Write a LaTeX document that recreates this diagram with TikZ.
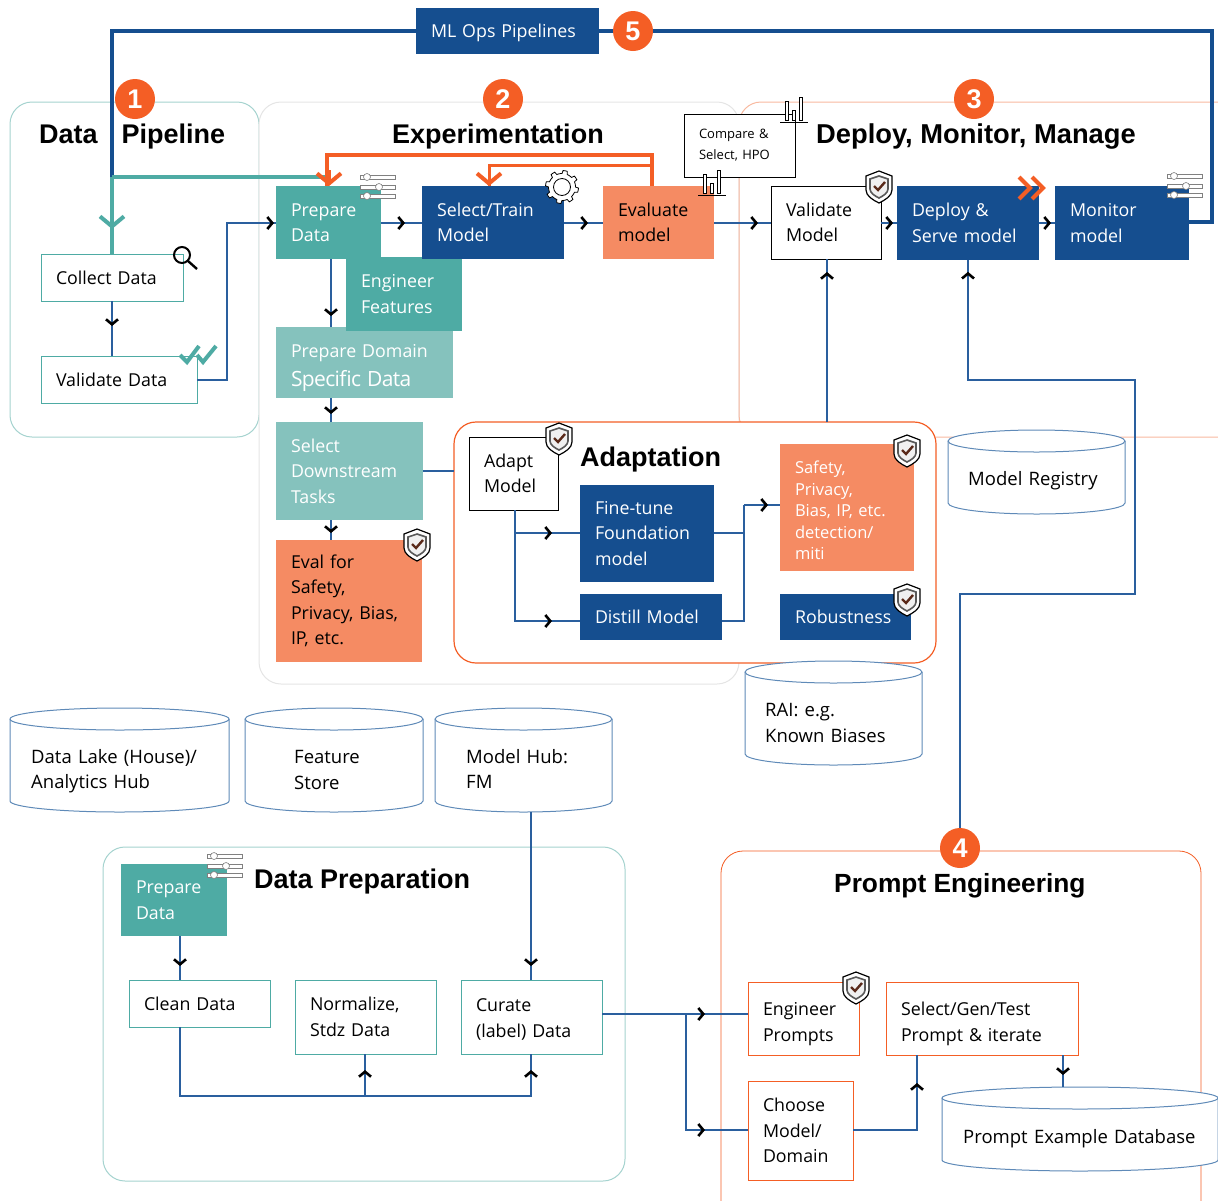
\documentclass[tikz,border=0pt]{standalone}
\usepackage{fontspec}
\setmainfont{Open Sans}[WordSpace=1.3]
\newfontfamily\titlefont{Liberation Sans}
\usepackage{tikz}
\usetikzlibrary{arrows.meta,decorations.markings,positioning}
\definecolor{mlblue}{HTML}{154E8F}
\definecolor{linkblue}{HTML}{2A5F9E}
\definecolor{mlteal}{HTML}{4EABA4}
\definecolor{paleteal}{HTML}{85C2BD}
\definecolor{panelteal}{HTML}{A5D3CF}
\definecolor{mlorange}{HTML}{F58B63}
\definecolor{hotorange}{HTML}{F45E25}
\definecolor{paleorange}{HTML}{F8B9A0}
\definecolor{cylblue}{HTML}{5F8AB8}
\definecolor{checkred}{HTML}{5A2A1A}
\newcommand{\dropline}[1]{\rule{0pt}{#1pt}}

\begin{document}
\begin{tikzpicture}[x=1pt,y=-1pt,
    chevron/.tip={Straight Barb[length=5pt,width=12pt,line width=2.6pt,color=black]},
    bigchevron/.tip={Straight Barb[length=10pt,width=24pt,line width=4pt]},
    boxsize/.style 2 args={text width=#1pt-30pt,minimum height=#2pt},
    box/.style={anchor=north west,inner xsep=15pt,inner ysep=0pt,outer sep=0pt,align=left,
      font=\fontsize{17.8}{25.5}\selectfont},
    bluebox/.style={box,fill=mlblue,text=white},
    tealbox/.style={box,fill=mlteal,text=white},
    paletealbox/.style={box,fill=paleteal,text=white},
    orangebox/.style={box,fill=mlorange},
    tealoutline/.style={box,draw=mlteal,line width=1pt,fill=white},
    blackoutline/.style={box,draw=black,line width=1pt,fill=white},
    orangeoutline/.style={box,draw=hotorange,line width=1pt,fill=white},
    panel/.style={rounded corners=22pt,line width=1pt,fill=white},
    paneltitle/.style={anchor=base west,inner sep=0pt,font=\titlefont\bfseries\fontsize{27}{30}\selectfont},
    badge/.style={circle,fill=hotorange,text=white,inner sep=0pt,minimum size=40pt,
      font=\titlefont\bfseries\fontsize{27}{30}\selectfont},
    dbslot/.style={anchor=north west,inner sep=0pt,outer sep=0pt},
    drumline/.style={draw=cylblue,line width=1pt},
    dbtext/.style={anchor=west,inner sep=0pt,align=left,font=\fontsize{18.5}{25.5}\selectfont},
    link/.style={draw=linkblue,line width=1.2pt},
    tipat/.style={postaction={decorate,decoration={markings,mark=at position #1pt with {\arrow{chevron}}}}},
    thicklink/.style={line width=4pt},
    pics/sliders/.style={code={
      \foreach \yy/\kx in {0/7,10/19,19/7} {
        \draw[gray,fill=white,line width=.6pt] (0,\yy-2) rectangle (35,\yy+2);
        \draw[gray,fill=white,line width=.6pt] (\kx,\yy) circle (3.5pt);
      }}},
    pics/barchart/.style={code={
      \draw[black,line width=1pt] (0,0) -- (28,0);
      \draw[black,fill=white,line width=.8pt] (5,-2) rectangle (8,-21);
      \draw[black,fill=white,line width=.8pt] (12,-2) rectangle (15,-12);
      \draw[black,fill=white,line width=.8pt] (19,-2) rectangle (22,-25);}},
    pics/shieldicon/.style={code={
      \draw[black,fill=white,line width=1.2pt] (0,-16) -- (13,-11) -- (13,3) .. controls (13,9) and (6,13) .. (0,16)
        .. controls (-6,13) and (-13,9) .. (-13,3) -- (-13,-11) -- cycle;
      \draw[black!65,fill=black!6,line width=1.6pt] (0,-11) -- (9,-8) -- (9,2) .. controls (9,6) and (4,9) .. (0,11)
        .. controls (-4,9) and (-9,6) .. (-9,2) -- (-9,-8) -- cycle;
      \draw[checkred,line width=2.4pt] (-5,-1) -- (-1,3) -- (6,-5);}},
    pics/gearicon/.style={code={
      \draw[black,fill=white,line width=.8pt] plot[domain=0:360,samples=97] (\x:{13.5+3*(sin(8*\x)>0)}) -- cycle;
      \draw[black,line width=.8pt] (0,0) circle (8.5pt);}},
  ]
  \useasboundingbox (0,0) rectangle (1218,1200);

  \draw[panel,draw=panelteal] (10,102) rectangle (259,437);
  \draw[panel,draw=black!10] (259,102) rectangle (739,684);
  \draw[panel,draw=paleorange,fill=none] (739,102) rectangle (1245,437);
  \draw[panel,draw=panelteal] (103,847) rectangle (625,1181);
  \draw[panel,draw=hotorange,line width=.8pt] (721,851) rectangle (1201,1230);
  \draw[panel,draw=hotorange,line width=1.2pt] (454,422) rectangle (936,663);

  \node (pipetitle) [paneltitle] at (39,143) {Data\hspace{24pt}Pipeline};
  \node (exptitle) [paneltitle] at (392,143) {Experimentation};
  \node (deploytitle) [paneltitle,font=\titlefont\bfseries\fontsize{27.3}{30}\selectfont] at (816,143) {Deploy, Monitor, Manage};
  \node (adapttitle) [paneltitle] at (580,466) {Adaptation};
  \node (preptitle) [paneltitle] at (254,888) {Data Preparation};
  \node (prompttitle) [paneltitle,font=\titlefont\bfseries\fontsize{26.3}{30}\selectfont] at (834,892) {Prompt Engineering};

  \node (mlops) [bluebox,boxsize={183}{46}] at (416,8) {\dropline{18}ML Ops Pipelines};
  \node (collect) [tealoutline,boxsize={142}{47}] at (41,254) {Collect Data};
  \node (validate) [tealoutline,boxsize={156}{47}] at (41,356) {Validate Data};
  \node (prepare) [tealbox,boxsize={105}{73}] at (276,186) {Prepare\\Data};
  \node (domain) [paletealbox,boxsize={177}{71}] at (276,327) {\dropline{24}Prepare Domain\\[3pt]{\fontsize{21}{25.5}\selectfont\addfontfeature{LetterSpace=-3}Specific Data}};
  \node (features) [tealbox,boxsize={116}{74}] at (346,257) {Engineer\\Features};
  \node (downstream) [paletealbox,boxsize={147}{98}] at (276,422) {Select\\Downstream\\Tasks};
  \node (evalsafety) [orangebox,boxsize={146}{122}] at (276,540) {Eval for\\Safety,\\Privacy, Bias,\\IP, etc.};
  \node (train) [bluebox,boxsize={142}{73}] at (422,186) {Select/Train\\Model};
  \node (evaluate) [orangebox,boxsize={111}{73}] at (603,186) {Evaluate\\model};
  \node (compare) [blackoutline,boxsize={111}{63},font=\fontsize{13}{21}\selectfont] at (684,114) {Compare \&\\Select, HPO};
  \node (valmodel) [blackoutline,boxsize={110}{73}] at (771,186) {Validate\\Model};
  \node (serve) [bluebox,boxsize={142}{74}] at (897,186) {Deploy \&\\Serve model};
  \node (monitor) [bluebox,boxsize={134}{74}] at (1055,186) {Monitor\\model};
  \node (adapt) [blackoutline,boxsize={89}{73}] at (469,437) {Adapt\\Model};
  \node (finetune) [bluebox,boxsize={134}{97}] at (580,485) {Fine-tune\\Foundation\\model};
  \node (distill) [bluebox,boxsize={142}{46}] at (580,594) {Distill Model};
  \node (safety) [orangebox,text=white,boxsize={134}{127},font=\fontsize{16.5}{21.5}\selectfont] at (780,444) {\dropline{19}Safety,\\Privacy,\\Bias, IP, etc.\\detection/\\miti};
  \node (robust) [bluebox,boxsize={131}{46}] at (780,594) {Robustness};

  \node (lake) [dbslot,minimum width=219pt,minimum height=104pt] at (10,708) {};
  \node (store) [dbslot,minimum width=178pt,minimum height=104pt] at (245,708) {};
  \node (hub) [dbslot,minimum width=177pt,minimum height=104pt] at (435,708) {};
  \node (rai) [dbslot,minimum width=177pt,minimum height=104pt] at (745,661) {};
  \node (registry) [dbslot,minimum width=177pt,minimum height=84pt] at (948,430) {};
  \node (examples) [dbslot,minimum width=276pt,minimum height=84pt] at (942,1087) {};
  \foreach \d/\rx in {lake/109.5,store/89,hub/88.5,rai/88.5,registry/88.5,examples/138} {
    \draw[drumline,fill=white] ([yshift=-11pt]\d.north west)
      arc[start angle=180,end angle=0,x radius=\rx pt,y radius=11pt] -- ([yshift=11pt]\d.south east)
      arc[start angle=0,end angle=-180,x radius=\rx pt,y radius=11pt] -- cycle;
    \draw[drumline] ([yshift=-11pt]\d.north west) arc[start angle=180,end angle=360,x radius=\rx pt,y radius=11pt];
  }
  \node (laketext) [dbtext] at (31,771) {Data Lake (House)/\\Analytics Hub};
  \node (storetext) [dbtext] at (294,770) {Feature\\Store};
  \node (hubtext) [dbtext] at (466,769) {Model Hub:\\FM};
  \node (raitext) [dbtext] at (765,723) {RAI: e.g.\\Known Biases};
  \node (registrytext) [dbtext] at (968,481) {Model Registry};
  \node (examplestext) [dbtext] at (963,1139) {Prompt Example Database};

  \node (prepare2) [tealbox,boxsize={106}{72}] at (121,864) {Prepare\\Data};
  \node (clean) [tealoutline,boxsize={141}{47}] at (129,980) {Clean Data};
  \node (normalize) [tealoutline,boxsize={141}{74}] at (295,980) {Normalize,\\Stdz Data};
  \node (curate) [tealoutline,boxsize={141}{74}] at (461,980) {\dropline{18}Curate\\[1pt](label) Data};
  \node (engineer) [orangeoutline,boxsize={111}{73}] at (748,982) {\dropline{24}Engineer\\Prompts};
  \node (selectgen) [orangeoutline,boxsize={192}{73}] at (886,982) {\dropline{24}Select/Gen/Test\\Prompt \& iterate};
  \node (choose) [orangeoutline,boxsize={105}{99}] at (748,1081) {Choose\\Model/\\Domain};

  \node (one) [badge] at (135,99) {1};
  \node (two) [badge] at (503,99) {2};
  \node (three) [badge] at (974,99) {3};
  \node (four) [badge] at (960,848) {4};
  \node (five) [badge] at (633,31) {5};

  \coordinate (tealcorner) at (112,177);
  \coordinate (rightcorner) at (1212,31);
  \coordinate (rightend) at (1212,222);
  \coordinate (orangetop) at (652,155);
  \coordinate (orangemid) at (652,165);
  \coordinate (toprepare) at (327,186);
  \coordinate (totrain) at (489,186);
  \coordinate (fromeval) at (652,186);
  \coordinate (join) at (744,505);
  \coordinate (branch) at (686,1014);
  \coordinate (elbowa) at (1135,594);
  \coordinate (elbowb) at (1135,380);

  \draw[link,tipat=25] (collect.south -| 112,0) -- (validate.north -| 112,0);
  \draw[link,tipat=234] (validate.east |- 0,380) -| (227,223) -- (prepare.west |- 0,223);
  \draw[link,tipat=24] (prepare.east |- 0,223) -- (train.west |- 0,223);
  \draw[link,tipat=24] (train.east |- 0,223) -- (evaluate.west |- 0,223);
  \draw[link,tipat=44] (evaluate.east |- 0,223) -- (valmodel.west |- 0,223);
  \draw[link,tipat=12] (valmodel.east |- 0,223) -- (serve.west |- 0,223);
  \draw[link,tipat=12] (serve.east |- 0,223) -- (monitor.west |- 0,223);
  \draw[link,tipat=57] (prepare.south -| 331,0) -- (domain.north -| 331,0);
  \draw[link,tipat=16] (domain.south -| 331,0) -- (downstream.north -| 331,0);
  \draw[link,tipat=13] (downstream.south -| 331,0) -- (evalsafety.north -| 331,0);
  \draw[link] (downstream.east |- 0,471) -- (454,471);
  \draw[link,tipat=60] (adapt.south -| 515,0) |- (finetune.west |- 0,533);
  \draw[link,tipat=148] (adapt.south -| 515,0) |- (distill.west |- 0,621);
  \draw[link] (finetune.east |- 0,533) -| (join);
  \draw[link] (distill.east |- 0,621) -| (join);
  \draw[link,tipat=24] (join) -- (safety.west |- join);
  \draw[link,tipat=150] (827,422) -- (valmodel.south -| 827,0);
  \draw[link,tipat=898] (four) |- (elbowa) -- (elbowb) -| (serve.south -| 968,0);
  \draw[link,tipat=154] (hub.south -| 531,0) -- (curate.north -| 531,0);
  \draw[link,tipat=30] (prepare2.south -| 180,0) -- (clean.north -| 180,0);
  \draw[link,tipat=446] (clean.south -| 180,0) |- (531,1096) -- (curate.south -| 531,0);
  \draw[link,tipat=26] (365,1096) -- (normalize.south -| 365,0);
  \draw[link,tipat=103] (curate.east |- branch) -- (engineer.west |- branch);
  \draw[link,tipat=135] (branch) |- (choose.west |- 0,1130);
  \draw[link,tipat=111] (choose.east |- 0,1130) -| (917,1055);
  \draw[link,tipat=20] (selectgen.south -| 1063,0) -- (1063,1087);

  \draw[mlblue,thicklink] (mlops.west) -| (tealcorner);
  \draw[mlblue,thicklink] (mlops.east) -- (five);
  \draw[mlblue,thicklink] (five) -- (rightcorner) -- (rightend) -- (monitor.east |- rightend);
  \draw[mlteal,thicklink,-{bigchevron}] (tealcorner) -- (112,229);
  \draw[mlteal,thicklink] (112,224) -- (collect.north -| 112,0);
  \draw[mlteal,thicklink] (toprepare |- tealcorner) -- (tealcorner);
  \draw[hotorange,line width=4pt] (fromeval) -- (orangetop) -| (toprepare);
  \draw[hotorange,line width=3pt] (orangemid) -| (totrain);
  \draw[hotorange,line width=4pt,-{bigchevron}] (329,170) -- (329,186);
  \draw[hotorange,line width=3pt,-{bigchevron}] (489,170) -- (489,186);

  \pic (slidea) at (360,177) {sliders};
  \pic (slideb) at (1167,176) {sliders};
  \pic (slidec) at (207,856) {sliders};
  \pic (chartb) at (698,195) {barchart};
  \pic (charta) at (780,122) {barchart};
  \pic (shieldval) at (879,187) {shieldicon};
  \pic (shieldadapt) at (559,439) {shieldicon};
  \pic (shieldsafety) at (907,451) {shieldicon};
  \pic (shieldrobust) at (907,600) {shieldicon};
  \pic (shieldeval) at (417,545) {shieldicon};
  \pic (shieldprompt) at (856,988) {shieldicon};
  \pic (geartrain) at (562,187) {gearicon};

  \draw[black,line width=2pt] (182,255) circle (8pt);
  \draw[black,line width=2.4pt] (188,261) -- (197,269);
  \draw[mlteal,line width=4pt] (180,355) -- (187,362) -- (199,346);
  \draw[mlteal,line width=4pt] (197,355) -- (203,362) -- (216,346);
  \draw[hotorange,line width=4pt] (1019,177) -- (1030,188) -- (1019,199);
  \draw[hotorange,line width=4pt] (1032,177) -- (1043,188) -- (1032,199);
\end{tikzpicture}
\end{document}
